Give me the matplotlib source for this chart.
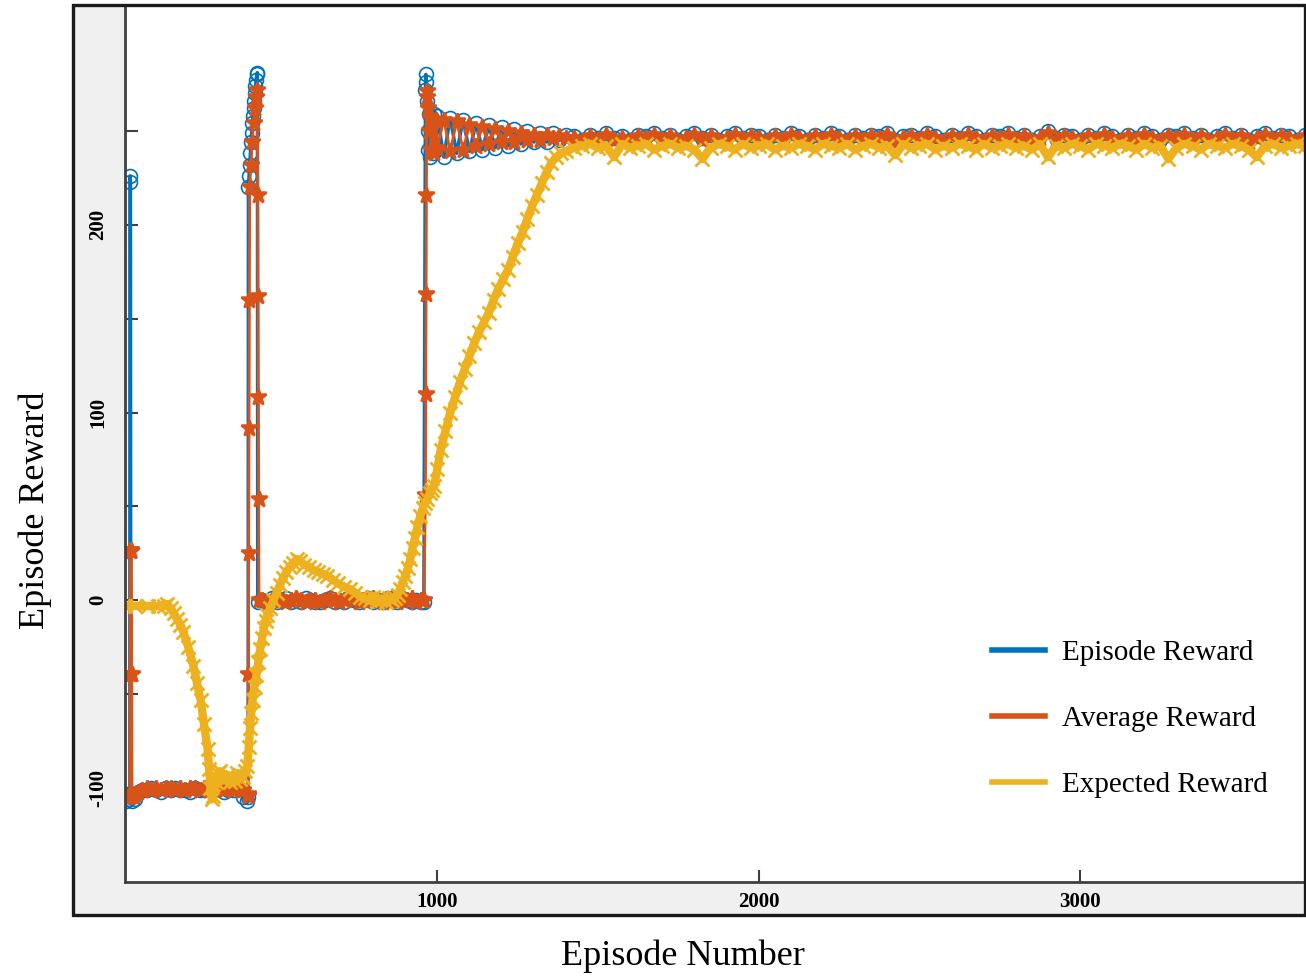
import numpy as np
import matplotlib.pyplot as plt
from matplotlib.patches import Rectangle
from matplotlib.lines import Line2D
from matplotlib.ticker import FixedLocator, FuncFormatter

# ---- data (episode numbers and rewards) ----
low_ep = list(range(95, 406, 15))      # plateau near -100
zero_ep = list(range(455, 951, 15))    # plateau near 0
mid_ep = list(range(1000, 1401, 20))   # settling after the last jump
late_ep = list(range(1425, 3701, 25))  # converged part

# episode reward (blue)
ep_blue = ([28, 32, 36, 40, 43, 44, 45, 46, 50, 55, 60, 70, 80] + low_ep + [409, 411]
           + list(range(412, 441, 2)) + [441] + zero_ep
           + [958, 963, 964, 966, 968, 970, 972, 975, 978, 982, 986, 990, 995] + mid_ep + late_ep)
val_blue = ([-104, -107, -103, -106, -104, 226, 223, -105, -107, -103, -106, -102, -101]
            + [-101, -100, -101, -102, -100, -101, -100, -101, -101, -102, -100, -101, -101, -100,
               -101, -100, -102, -101, -101, -100, -105]
            + [-107, -105]
            + [220, 226, 232, 238, 244, 249, 254, 258, 262, 266, 270, 274, 277, 280, 281]
            + [-1]
            + [0, -1, 1, -1, 0, 1, -1, 0, -1, 1, 0, -1, -1, 0, 1, -1, 0, -1, 1, 0, -1, 0, 1, -1,
               0, -1, 1, 0, -1, 1, 0, -1, 0, -1]
            + [-1, 272, 280, 276, 266, 250, 240, 259, 236, 257, 238, 259, 240]
            + [258, 236, 257, 238, 256, 239, 254, 240, 253, 241, 252, 242, 251, 243, 250, 244,
               249, 244, 249, 245, 248]
            + [247, 245, 248, 246, 249, 246, 247, 245, 248, 247, 249, 246, 248, 245, 247, 249,
               246, 248, 245, 247, 249, 246, 248, 247, 245, 248, 246, 249, 247, 245, 248, 246,
               249, 247, 245, 248, 246, 248, 247, 249, 245, 247, 248, 246, 249, 247, 245, 248,
               246, 249, 247, 245, 248, 247, 249, 246, 248, 245, 247, 250, 246, 248, 247, 245,
               248, 246, 249, 247, 245, 248, 246, 249, 247, 245, 248, 247, 249, 246, 248, 245,
               247, 249, 246, 248, 245, 247, 249, 246, 248, 247, 245, 248])

# average reward (orange)
ep_avg = ([28, 36, 43, 44, 45, 47, 48, 49, 50, 55, 60, 70, 80] + low_ep + [410, 411]
          + [412, 413, 414, 415, 416, 420, 424, 428, 432, 436, 440]
          + [441, 442, 443, 444, 445] + zero_ep
          + [958, 963, 964, 965, 966, 967, 968, 970, 973, 976, 980, 985, 990, 995] + mid_ep + late_ep)
val_avg = ([-104, -105, -104, -39, 27, 26, 27, -39, -104, -104, -103, -102, -101]
           + [-100, -101, -100, -101, -100, -100, -101, -100, -101, -100, -100, -101, -100, -101,
              -100, -100, -101, -100, -101, -100, -101]
           + [-103, -104]
           + [-39, 25, 92, 160, 220, 232, 244, 254, 262, 268, 272]
           + [216, 162, 108, 54, 0]
           + [0, -1, 0, 1, 0, -1, 0, 1, 0, -1, 0, 0, -1, 0, 1, 0, -1, 0, 1, 0, -1, 0, 0, 1,
              0, -1, 0, 1, -1, 0, 0, 1, -1, 0]
           + [0, 56, 110, 163, 216, 268, 271, 262, 250, 257, 240, 255, 238, 256]
           + [241, 256, 239, 255, 240, 253, 242, 252, 243, 251, 244, 250, 244, 249, 245, 248,
              245, 248, 246, 247, 246]
           + [246, 244, 247, 245, 248, 245, 246, 244, 247, 246, 248, 245, 247, 244, 246, 248,
              245, 247, 244, 246, 248, 245, 247, 246, 244, 247, 245, 248, 246, 244, 247, 245,
              248, 246, 244, 247, 245, 247, 246, 248, 244, 246, 247, 245, 248, 246, 244, 247,
              245, 248, 246, 244, 247, 246, 248, 245, 247, 244, 246, 249, 245, 247, 246, 244,
              247, 245, 248, 246, 244, 247, 245, 248, 246, 244, 247, 246, 248, 245, 247, 244,
              246, 248, 245, 247, 244, 246, 248, 245, 247, 246, 244, 247])

# expected reward (yellow)
ep_exp = ([28, 60, 100, 130, 150, 160, 170, 180, 190, 200, 210, 225, 241, 252, 263, 274, 285, 290,
           294, 298, 303, 310, 318, 325, 332, 340, 347, 355, 362, 370, 378, 387, 395, 402, 409,
           413, 417, 421, 425, 431, 437, 443, 449, 455, 460, 466, 471, 480, 490, 500, 510, 520,
           530, 541, 552, 563, 574, 585, 600, 615, 630, 645, 658, 675, 690, 710, 729, 745, 760,
           775, 790, 800, 813, 826, 840, 850, 860, 868, 876, 885, 893, 900, 908, 916, 923, 930,
           938, 947, 955, 962, 969, 976, 983, 990, 1000, 1010, 1025, 1040, 1055, 1070, 1085,
           1100, 1115, 1130, 1145, 1160, 1175, 1190, 1205, 1220, 1235, 1250, 1265, 1280, 1295,
           1310, 1325, 1340, 1355, 1370, 1385, 1400] + late_ep)
val_exp = ([-3, -3, -3, -3, -3, -2, -4, -7, -10, -13, -17, -25, -35, -44, -53, -66, -79, -90,
            -100, -106, -104, -97, -92, -91, -96, -95, -93, -97, -94, -96, -92, -95, -94, -91, -88,
            -78, -68, -60, -53, -46, -40, -33, -26, -20, -15, -11, -8, -4, 0, 4, 8, 12,
            15, 18, 20, 22, 21, 19, 18, 16, 15, 14, 13, 11, 9, 7, 6, 4, 2,
            1, 0, 2, -1, 1, -1, 1, 0, 1, 3, 6, 10, 13, 17, 22, 28, 33,
            39, 45, 49, 52, 54, 57, 59, 61, 70, 80, 90, 100, 108, 116, 123,
            130, 137, 143, 148, 153, 160, 166, 171, 176, 183, 190, 196, 203, 210,
            216, 222, 228, 233, 236, 238, 239]
           + [241, 242, 243, 241, 242, 236, 243, 241, 242, 243, 240, 242, 243, 241, 242, 240,
              235, 241, 243, 242, 240, 243, 241, 242, 243, 240, 242, 241, 243, 242, 240, 243,
              242, 241, 243, 240, 242, 243, 241, 242, 237, 243, 241, 242, 243, 240, 242, 241,
              243, 242, 240, 243, 241, 242, 243, 241, 242, 240, 243, 236, 242, 241, 243, 242,
              240, 243, 242, 241, 243, 242, 240, 243, 241, 242, 235, 241, 243, 242, 240, 243,
              242, 241, 243, 242, 240, 236, 242, 243, 241, 242, 243, 242])

blue = '#0072BD'
orange = '#D95319'
yellow = '#EDB120'
serif = ['Liberation Serif', 'DejaVu Serif']

fig = plt.figure(figsize=(13.06, 9.76), dpi=100)
fig.patch.set_facecolor('white')
fig.add_artist(Rectangle((73 / 1306, 61 / 976), 1232 / 1306, 910 / 976, transform=fig.transFigure,
                         facecolor='#f0f0f0', edgecolor='none', zorder=-5))
ax = fig.add_axes([125 / 1306, 94 / 976, 1180 / 1306, 877 / 976])
ax.set_facecolor('white')

ax.plot(ep_blue, val_blue, color=blue, lw=2.5, marker='o', ms=10, mfc='none', mec=blue, mew=1.2)
ax.plot(ep_avg, val_avg, color=orange, lw=2, marker='*', ms=12, mec=orange, mew=1.8)
ax.plot(ep_exp, val_exp, color=yellow, lw=6, marker='x', ms=10, mec=yellow, mew=2)

ax.set_xlim(28, 3700)
ax.set_ylim(-150, 317)

for s in ['top', 'right']:
    ax.spines[s].set_visible(False)
for s in ['left', 'bottom']:
    ax.spines[s].set_color('#404040')
    ax.spines[s].set_linewidth(2)

ax.xaxis.set_major_locator(FixedLocator([1000, 2000, 3000]))
ax.yaxis.set_major_locator(FixedLocator([-100, -50, 0, 50, 100, 150, 200, 250]))
ax.yaxis.set_major_formatter(FuncFormatter(lambda v, p: f'{int(v)}' if v in (-100, 0, 100, 200) else ''))
ax.tick_params(axis='both', direction='in', length=9, width=1.5, color='#404040')
ax.tick_params(axis='x', pad=7)
ax.tick_params(axis='y', pad=12)
for lab in ax.get_xticklabels():
    lab.set_fontfamily(serif)
    lab.set_fontweight('bold')
    lab.set_fontsize(15)
for lab in ax.get_yticklabels():
    lab.set_fontfamily(serif)
    lab.set_fontweight('bold')
    lab.set_fontsize(15)
    lab.set_rotation(90)
    lab.set_va('center')

ax.set_xlabel('Episode Number', fontfamily=serif, fontsize=26, va='center')
ax.xaxis.set_label_coords(0.473, -0.085)
ax.set_ylabel('Episode Reward', fontfamily=serif, fontsize=26, va='center')
ax.yaxis.set_label_coords(-0.076, 0.424)

handles = [Line2D([0], [0], color=blue, lw=4),
           Line2D([0], [0], color=orange, lw=4),
           Line2D([0], [0], color=yellow, lw=4)]
ax.legend(handles, ['Episode Reward', 'Average Reward', 'Expected Reward'],
          loc='upper left', bbox_to_anchor=(0.735, 0.276), frameon=False,
          prop={'family': serif, 'size': 21}, handlelength=1.8, handletextpad=0.6,
          labelspacing=1.35, borderaxespad=0, borderpad=0)

fig.add_artist(Rectangle((73 / 1306, 61 / 976), 1232 / 1306, 910 / 976, transform=fig.transFigure,
                         facecolor='none', edgecolor='#1a1a1a', lw=2.4, zorder=10))

fig.savefig('out.png', dpi=100)
